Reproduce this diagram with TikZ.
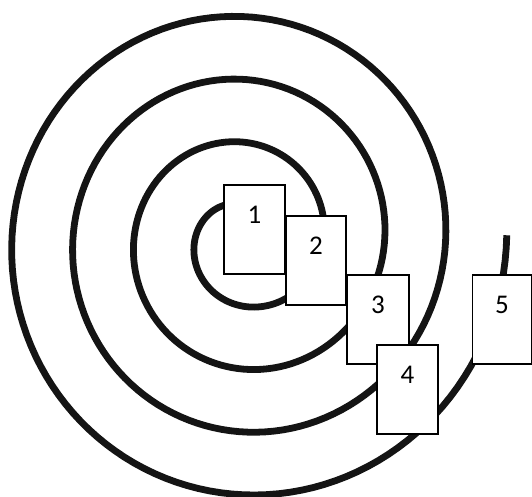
\documentclass[tikz,border=0pt]{standalone}
\usepackage{fontspec}
\setmainfont{Carlito}
\usepackage{tikz}

\begin{document}
\begin{tikzpicture}[
    x=1pt,y=1pt,
    spiral/.style={line width=6.8pt, black!92},
    box/.style={draw, fill=white, line width=1.3pt, minimum width=61pt,
      inner sep=0pt, text height=38.6pt, text depth=50.4pt,
      font=\fontsize{27}{32}\selectfont}
  ]
    \useasboundingbox (0,0) rectangle (532,497);

    \draw[spiral] plot[domain=105:1441, samples=500, variable=\t]
      ({244 + (18.7+0.1694*\t)*cos(\t)}, {257 + 1.03*(18.7+0.1694*\t)*sin(\t)});

    \node[box] (b1) at (254.5,267.5) {1};
    \node[box, minimum width=60pt] (b2) at (316,236.5) {2};
    \node[box, minimum width=62pt] (b3) at (378,177.5) {3};
    \node[box] (b4) at (407.5,107.5) {4};
    \node[box, minimum width=59pt] (b5) at (502,177.5) {5};
  \end{tikzpicture}
\end{document}
